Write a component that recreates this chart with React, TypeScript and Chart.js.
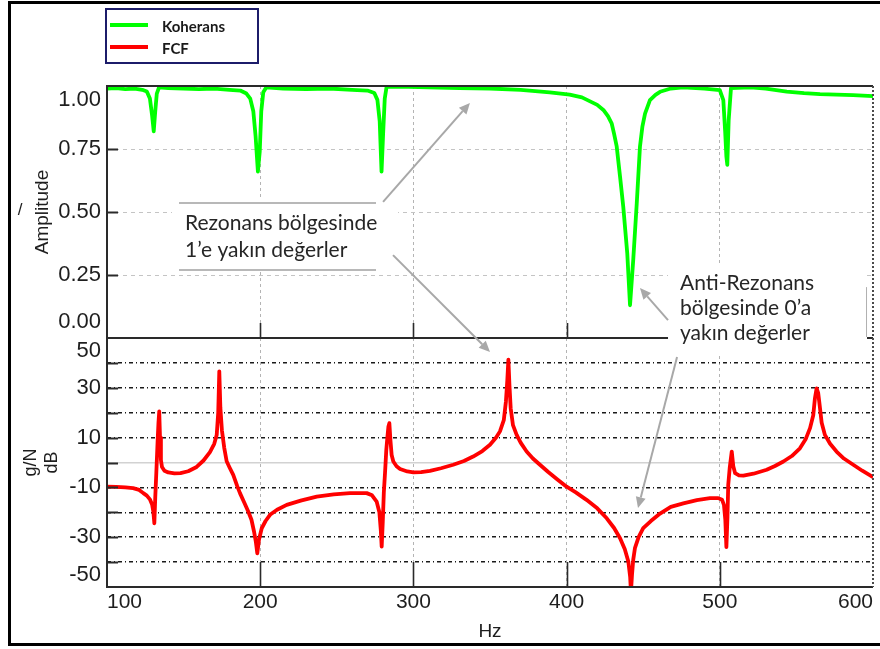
import React, { useEffect, useRef } from 'react';
import { Chart, registerables } from 'chart.js';

Chart.register(...registerables);

// ---------- data ----------
const seriesNames = ['Koherans', 'FCF'];
const seriesColors = ['#00ff00', '#ff0000'];

const cohHz = [
  100, 106, 112, 118, 123, 126, 128, 129.5, 130.5, 131.5, 132.5, 134, 140, 150, 160, 170, 180, 187,
  191, 193.5, 195.5, 197, 198.5, 199.7, 200.7, 202, 204, 215, 230, 245, 260, 270, 274.5, 276.5, 278,
  279.2, 280.3, 281.3, 282.5, 290, 310, 330, 350, 370, 389, 402, 410, 415, 420, 424, 427, 429.4, 431,
  432.7, 434.9, 437, 439.6, 441.4, 443.5, 445.8, 447.9, 449.5, 451.2, 454.4, 458, 461, 468, 476, 490,
  500, 502.3, 503.5, 504.3, 504.9, 505.8, 507.3, 520, 530, 543.7, 555, 565.4, 587, 600,
];
const cohAmp = [
  0.99, 0.992, 0.988, 0.99, 0.985, 0.978, 0.95, 0.88, 0.82, 0.9, 0.97, 0.995, 0.992, 0.99, 0.988, 0.99,
  0.985, 0.982, 0.97, 0.95, 0.9, 0.8, 0.66, 0.74, 0.9, 0.975, 0.995, 0.99, 0.988, 0.99, 0.985, 0.982,
  0.972, 0.945, 0.86, 0.66, 0.82, 0.95, 0.997, 0.998, 0.995, 0.992, 0.99, 0.985, 0.975, 0.966, 0.955,
  0.94, 0.925, 0.905, 0.88, 0.852, 0.81, 0.76, 0.64, 0.52, 0.336, 0.13, 0.31, 0.535, 0.76, 0.84, 0.89,
  0.944, 0.965, 0.977, 0.99, 0.995, 0.99, 0.984, 0.944, 0.82, 0.72, 0.687, 0.865, 0.992, 0.995, 0.99,
  0.978, 0.972, 0.968, 0.964, 0.96,
];

const fcfHz = [
  100, 106, 112, 117, 121, 123.7, 126, 128, 129.5, 130.3, 130.9, 131.5, 132.2, 133, 133.6, 134.1, 134.6,
  135.2, 135.9, 137.5, 140, 144, 148, 153, 158.5, 163, 167.2, 170, 171.6, 172.6, 173.3, 174, 175, 176.5,
  178.1, 180, 182.4, 185, 186.8, 189.5, 192.2, 194.3, 196, 197.2, 198.1, 199.2, 201, 203.5, 206.4, 211,
  217.3, 227, 236.9, 248, 258.6, 269.5, 273, 276, 277.8, 278.7, 279.3, 280, 280.7, 281.5, 282.3, 283,
  283.7, 284.3, 285, 285.8, 286.9, 289, 291.3, 296, 300, 305, 310.8, 318, 326, 333, 339, 345, 350, 354,
  356.5, 359, 360.4, 361.3, 362, 362.7, 363.5, 365, 367.4, 370, 373.9, 378, 382.6, 388, 394, 400, 406,
  413, 420, 426.2, 431, 434.9, 438, 440.3, 441.5, 442, 442.7, 443.5, 444.6, 447, 450, 455, 461, 468,
  476.2, 485, 493.6, 499, 501.5, 502.7, 503.6, 504.3, 505, 505.5, 506.5, 507.8, 508.8, 510, 512.5,
  515.4, 522, 530.6, 536, 541.5, 547, 552.3, 556, 558.9, 561, 562.1, 563.2, 564.2, 564.9, 566.5, 568.6,
  572, 576.2, 581, 587.1, 593, 599.2, 600,
];
const fcfDb = [
  -9.7, -9.8, -10, -10.3, -11, -12.3, -13.3, -14.8, -17, -20, -24.4, -14, -4, 8, 16, 20.5, 10, 1, -1.8,
  -3.3, -4, -4.4, -4.3, -3.5, -1.8, 0.8, 4.2, 7.5, 11, 20, 36.6, 22, 13, 6, 0.5, -2, -5, -9.5, -12.3,
  -16, -19.7, -23, -27.8, -32, -36.5, -31, -26.4, -23.5, -21, -19, -17, -15.2, -13.7, -12.8, -12.3,
  -12.3, -13.2, -15.7, -20, -27, -33.8, -24, -12, -4, 5, 10, 14.5, 15.8, 9, 3, 0.4, -1.5, -2.6, -3.6,
  -4, -3.9, -3.4, -2.3, -0.9, 0.6, 2.4, 4.6, 7.1, 10, 12.5, 17, 24.5, 33, 41.3, 31, 21.8, 15, 11.1, 8,
  4.4, 1.6, -0.9, -3.8, -6.8, -9.7, -12, -15, -18.4, -22.4, -26.3, -30.4, -34.8, -39.8, -46, -52, -45,
  -39, -34.4, -30, -26.4, -23.5, -20.5, -17.8, -16.4, -15.1, -14.3, -14.3, -15, -17, -23, -34, -22, -9,
  -2, 4.4, -1.5, -4.3, -5.2, -5.3, -4.5, -2.9, -1.4, 0.4, 2.6, 5.7, 9.3, 13.8, 19, 25.8, 29.8, 28, 24.5,
  16, 11.1, 7.5, 4.4, 1.6, -0.9, -3.3, -5.6, -5.8,
];

const xTicks = [100, 200, 300, 400, 500, 600];
const ampTicks = [0, 0.25, 0.5, 0.75, 1];
const dbLabels = [50, 30, 10, -10, -30, -50];
const dbGrid = [40, 30, 20, 10, 0, -10, -20, -30, -40];

const xTitle = 'Hz';
const ampTitle = 'Amplitude';
const ampUnit = '/';
const dbTitle = ['g/N', 'dB'];
const note1 = ['Rezonans bölgesinde', '1’e yakın değerler'];
const note2 = ['Anti-Rezonans', 'bölgesinde 0’a', 'yakın değerler'];

// ---------- styling ----------
const SANS = '"Liberation Sans", Arial, sans-serif';
const NOTE_FONT = '21px Lato, "Open Sans", sans-serif';
const TICK_COLOR = '#1e1e1e';

function arrow(ctx: CanvasRenderingContext2D, x1: number, y1: number, x2: number, y2: number) {
  const ang = Math.atan2(y2 - y1, x2 - x1);
  const hl = 11;
  const hw = 5;
  const bx = x2 - hl * Math.cos(ang);
  const by = y2 - hl * Math.sin(ang);
  ctx.beginPath();
  ctx.moveTo(x1, y1);
  ctx.lineTo(bx, by);
  ctx.stroke();
  ctx.beginPath();
  ctx.moveTo(x2, y2);
  ctx.lineTo(bx + hw * Math.sin(ang), by - hw * Math.cos(ang));
  ctx.lineTo(bx - hw * Math.sin(ang), by + hw * Math.cos(ang));
  ctx.closePath();
  ctx.fill();
}

function seg(ctx: CanvasRenderingContext2D, x1: number, y1: number, x2: number, y2: number) {
  ctx.beginPath();
  ctx.moveTo(x1, y1);
  ctx.lineTo(x2, y2);
  ctx.stroke();
}

const decor = {
  id: 'decor',
  beforeDraw(chart: any) {
    const { ctx, width, height } = chart;
    ctx.save();
    ctx.fillStyle = '#ffffff';
    ctx.fillRect(0, 0, width, height);
    ctx.restore();
  },
  afterDatasetsDraw(chart: any) {
    const ctx: CanvasRenderingContext2D = chart.ctx;
    const xs = chart.scales.x;
    const ya = chart.scales.yCoh;
    const yb = chart.scales.yFcf;
    const X = (v: number) => xs.getPixelForValue(v);
    const YA = (v: number) => ya.getPixelForValue(v);
    const YB = (v: number) => yb.getPixelForValue(v);
    const L = chart.chartArea.left;
    const R = chart.chartArea.right;
    ctx.save();

    // inner tick marks
    ctx.strokeStyle = '#2a2a2a';
    ctx.lineWidth = 2;
    ctx.setLineDash([]);
    ampTicks.slice(1, -1).forEach((v) => {
      const p = Math.round(YA(v)) + 0.5;
      seg(ctx, L, p, L + 11, p);
    });
    dbGrid.forEach((v) => {
      const p = Math.round(YB(v)) + 0.5;
      seg(ctx, L, p, L + 11, p);
    });
    ctx.lineWidth = 1.6;
    xTicks.slice(1, -1).forEach((v) => {
      const p = Math.round(X(v)) + 0.5;
      seg(ctx, p, ya.bottom, p, ya.bottom - 15);
      seg(ctx, p, yb.bottom, p, yb.bottom - 25);
    });

    // panel borders
    ctx.lineWidth = 2;
    ctx.strokeStyle = '#2a2a2a';
    seg(ctx, L, ya.top, R, ya.top);
    seg(ctx, L, ya.bottom, R, ya.bottom);
    seg(ctx, L, yb.bottom, R, yb.bottom);
    seg(ctx, L, ya.top - 1, L, yb.bottom + 1);
    ctx.setLineDash([2, 2]);
    ctx.strokeStyle = '#4a4a4a';
    seg(ctx, R, ya.top, R, yb.bottom);
    ctx.setLineDash([]);

    // end tick labels (shifted inside the panel like the original)
    ctx.fillStyle = TICK_COLOR;
    ctx.font = `22px ${SANS}`;
    ctx.textAlign = 'right';
    ctx.textBaseline = 'middle';
    const lx = L - 6;
    ctx.fillText(ampTicks[ampTicks.length - 1].toFixed(2), lx, ya.top + 14);
    ctx.fillText(ampTicks[0].toFixed(2), lx, ya.bottom - 16);
    ctx.fillText(String(dbLabels[0]), lx, yb.top + 13);
    ctx.fillText(String(dbLabels[dbLabels.length - 1]), lx, yb.bottom - 12);

    // unit mark next to Amplitude title
    ctx.font = `17px ${SANS}`;
    ctx.textAlign = 'center';
    ctx.textBaseline = 'middle';
    ctx.fillText(ampUnit, 20, (ya.top + ya.bottom) / 2 - 2);

    // annotation 1
    ctx.fillStyle = '#ffffff';
    ctx.fillRect(X(142.4), YA(0.548), X(290) - X(142.4), YA(0.262) - YA(0.548));
    ctx.strokeStyle = '#a0a0a0';
    ctx.lineWidth = 1.5;
    seg(ctx, X(147), YA(0.536), X(275.6), YA(0.536));
    seg(ctx, X(147), YA(0.27), X(275.6), YA(0.27));
    ctx.fillStyle = '#262626';
    ctx.font = NOTE_FONT;
    ctx.textAlign = 'left';
    ctx.textBaseline = 'alphabetic';
    ctx.fillText(note1[0], X(150.9), YA(0.4286));
    ctx.fillText(note1[1], X(150.9), YA(0.3214));

    // annotation 2
    ctx.fillStyle = '#ffffff';
    const b2top = YA(0.29);
    const b2bot = YB(42.8);
    ctx.fillRect(X(466.2), b2top, X(596.1) - X(466.2), b2bot - b2top);
    ctx.strokeStyle = '#b0b0b0';
    ctx.lineWidth = 1;
    seg(ctx, X(596.1) - 0.5, YA(0.202), X(596.1) - 0.5, YA(0.004));
    ctx.fillStyle = '#262626';
    ctx.fillText(note2[0], X(474), YA(0.19));
    ctx.fillText(note2[1], X(474), YA(0.09));
    ctx.fillText(note2[2], X(474), YB(49.2));

    // arrows
    ctx.strokeStyle = '#a8a8a8';
    ctx.fillStyle = '#a8a8a8';
    ctx.lineWidth = 2;
    arrow(ctx, X(280.2), YA(0.54), X(336.9), YA(0.933));
    arrow(ctx, X(286.7), YA(0.329), X(350), YB(44.4));
    arrow(ctx, X(466.2), YA(0.071), X(447.9), YA(0.198));
    arrow(ctx, X(472.1), YB(42.4), X(446.6), YB(-18.3));

    // legend
    ctx.lineWidth = 2;
    ctx.strokeStyle = '#1c1c6a';
    ctx.strokeRect(106, 9, 152, 54);
    ctx.lineWidth = 4;
    const legY = [25, 47];
    chart.data.datasets.forEach((ds: any, i: number) => {
      ctx.strokeStyle = ds.borderColor;
      seg(ctx, 110, legY[i], 148, legY[i]);
      ctx.fillStyle = '#1a1a1a';
      ctx.font = 'bold 15px Lato, sans-serif';
      ctx.textAlign = 'left';
      ctx.textBaseline = 'middle';
      ctx.fillText(ds.label, 162, legY[i] + 2);
    });

    // outer frame
    ctx.strokeStyle = '#000000';
    ctx.lineWidth = 3;
    ctx.beginPath();
    ctx.moveTo(885, 2.5);
    ctx.lineTo(9.5, 2.5);
    ctx.lineTo(9.5, 644.5);
    ctx.lineTo(885, 644.5);
    ctx.stroke();

    ctx.restore();
  },
};

export default function App() {
  const ref = useRef<HTMLCanvasElement>(null);
  useEffect(() => {
    const canvas = ref.current;
    if (!canvas) return;
    const chart = new Chart(canvas, {
      type: 'line',
      data: {
        datasets: [
          {
            label: seriesNames[0],
            data: cohHz.map((h, i) => ({ x: h, y: cohAmp[i] })),
            borderColor: seriesColors[0],
            backgroundColor: seriesColors[0],
            borderWidth: 3.8,
            pointRadius: 0,
            tension: 0,
            yAxisID: 'yCoh',
            borderJoinStyle: 'round',
          },
          {
            label: seriesNames[1],
            data: fcfHz.map((h, i) => ({ x: h, y: fcfDb[i] })),
            borderColor: seriesColors[1],
            backgroundColor: seriesColors[1],
            borderWidth: 3.8,
            pointRadius: 0,
            tension: 0,
            yAxisID: 'yFcf',
            borderJoinStyle: 'round',
          },
        ],
      },
      options: {
        animation: false,
        responsive: false,
        devicePixelRatio: 1,
        events: [],
        layout: { padding: { left: 0, top: 86, right: 7, bottom: 0 } },
        plugins: { legend: { display: false }, tooltip: { enabled: false } },
        scales: {
          x: {
            type: 'linear',
            position: 'bottom',
            min: 100,
            max: 600,
            afterBuildTicks: (s: any) => {
              s.ticks = xTicks.map((v) => ({ value: v }));
            },
            afterFit: (s: any) => {
              s.height = 62;
            },
            ticks: {
              align: 'inner',
              color: TICK_COLOR,
              font: { family: SANS, size: 21 },
              padding: 3,
              maxRotation: 0,
              autoSkip: false,
            },
            grid: {
              drawTicks: false,
              color: (c: any) =>
                c.tick && (c.tick.value === 100 || c.tick.value === 600) ? 'rgba(0,0,0,0)' : '#b4b4b4',
              lineWidth: 1,
            },
            border: { display: false, dash: [3, 3] },
            title: {
              display: true,
              text: xTitle,
              color: TICK_COLOR,
              font: { family: SANS, size: 19 },
              padding: { top: 0, bottom: 6 },
            },
          },
          yFcf: {
            type: 'linear',
            position: 'left',
            stack: 'panels',
            stackWeight: 249,
            weight: 0,
            min: -50,
            max: 50,
            afterBuildTicks: (s: any) => {
              const t: any[] = [];
              for (let v = 50; v >= -50; v -= 10) t.push({ value: v });
              s.ticks = t.reverse();
            },
            afterFit: (s: any) => {
              s.width = 107;
            },
            ticks: {
              color: TICK_COLOR,
              font: { family: SANS, size: 22 },
              padding: 6,
              autoSkip: false,
              callback: (v: any) => (dbLabels.includes(v) && Math.abs(v) !== 50 ? String(v) : ''),
            },
            grid: {
              drawTicks: false,
              lineWidth: 1.5,
              color: (c: any) => {
                const v = c.tick ? c.tick.value : 50;
                if (Math.abs(v) === 50) return 'rgba(0,0,0,0)';
                if (v === 0) return '#d2d2d2';
                return '#1a1a1a';
              },
            },
            border: {
              display: false,
              dash: (c: any) => (c.tick && c.tick.value === 0 ? [] : [4, 3, 1, 3]),
            },
            title: {
              display: true,
              text: dbTitle,
              color: TICK_COLOR,
              font: { family: SANS, size: 18 },
              padding: { top: 20, bottom: 0 },
            },
          },
          yCoh: {
            type: 'linear',
            position: 'left',
            stack: 'panels',
            stackWeight: 252,
            weight: 1,
            min: 0,
            max: 1,
            afterBuildTicks: (s: any) => {
              s.ticks = ampTicks.map((v) => ({ value: v }));
            },
            afterFit: (s: any) => {
              s.width = 107;
            },
            ticks: {
              color: TICK_COLOR,
              font: { family: SANS, size: 22 },
              padding: 6,
              autoSkip: false,
              callback: (v: any) => (v === 0 || v === 1 ? '' : Number(v).toFixed(2)),
            },
            grid: {
              drawTicks: false,
              lineWidth: 1,
              color: (c: any) => {
                const v = c.tick ? c.tick.value : 0;
                return v === 0 || v === 1 ? 'rgba(0,0,0,0)' : '#c4c4c4';
              },
            },
            border: { display: false, dash: [4, 4] },
            title: {
              display: true,
              text: ampTitle,
              color: TICK_COLOR,
              font: { family: SANS, size: 19 },
              padding: { top: 31, bottom: 0 },
            },
          },
        },
      } as any,
      plugins: [decor],
    });
    return () => chart.destroy();
  }, []);
  return (
    <div style={{ position: 'fixed', left: 0, top: 0, width: 880, height: 649, background: '#fff' }}>
      <canvas ref={ref} width={880} height={649} style={{ display: 'block', width: 880, height: 649 }} />
    </div>
  );
}
